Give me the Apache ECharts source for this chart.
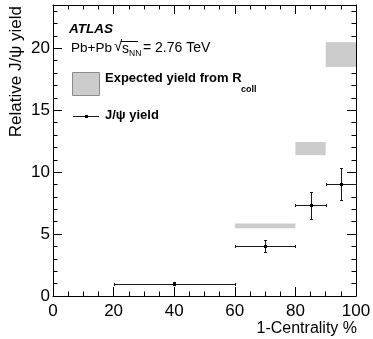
<!DOCTYPE html>
<html><head><meta charset="utf-8">
<script src="https://cdn.jsdelivr.net/npm/echarts@6/dist/echarts.min.js"></script>
<style>html,body{margin:0;padding:0;background:#fff}#c{width:373px;height:339px}</style>
</head><body><div id="c"></div>
<script>
// J/psi yield points (x = 1-centrality %, bins)
const yieldX = [40, 70, 85, 95];
const yieldXLow = [20, 60, 80, 90];
const yieldXHigh = [60, 80, 90, 100];
const yieldY = [1.0, 4.06, 7.31, 9.03];
const yieldYErr = [0.15, 0.5, 1.07, 1.3];
// Expected yield from R_coll (bands)
const rcollXLow = [60, 80, 90];
const rcollXHigh = [80, 90, 100];
const rcollYLow = [5.48, 11.37, 18.5];
const rcollYHigh = [5.86, 12.44, 20.5];
// axis ranges / tick spacing
const xMin = 0, xMax = 100, xMajor = 20, xMinorSplit = 4;
const yMin = 0, yMax = 23.5, yMajor = 5, yMinor = 1;

const FONT = '"Liberation Sans", Arial, Helvetica, sans-serif';
const chart = echarts.init(document.getElementById('c'), null, {renderer: 'canvas'});

const errData = yieldX.map((x, i) => [x, yieldY[i], yieldXLow[i], yieldXHigh[i], yieldYErr[i]]);
const boxData = rcollXLow.map((x, i) => [x, rcollXHigh[i], rcollYLow[i], rcollYHigh[i]]);

const snap = v => Math.round(v) + 0.5;

function renderBox(params, api) {
  const p1 = api.coord([api.value(0), api.value(3)]);
  const p2 = api.coord([api.value(1), api.value(2)]);
  return {
    type: 'rect',
    shape: {x: p1[0], y: p1[1], width: p2[0] - p1[0], height: p2[1] - p1[1]},
    style: {fill: '#cccccc', stroke: null}
  };
}

function renderErr(params, api) {
  const x = api.value(0), y = api.value(1), xl = api.value(2), xh = api.value(3), e = api.value(4);
  const c = api.coord([x, y]);
  const l = api.coord([xl, y]);
  const r = api.coord([xh, y]);
  const t = api.coord([x, y + e]);
  const b = api.coord([x, y - e]);
  const cx = snap(c[0]), cy = snap(c[1]);
  const st = {stroke: '#1a1a1a', lineWidth: 1, fill: null};
  const cap = 1.5;
  const line = (x1, y1, x2, y2) => ({type: 'line', shape: {x1, y1, x2, y2}, style: st});
  const lx = snap(l[0]), rx = snap(r[0]), ty = snap(t[1]), by = snap(b[1]);
  return {
    type: 'group',
    children: [
      line(lx, cy, rx, cy),
      line(cx, ty, cx, by),
      line(lx, cy - cap, lx, cy + cap),
      line(rx, cy - cap, rx, cy + cap),
      line(cx - cap, ty, cx + cap, ty),
      line(cx - cap, by, cx + cap, by),
      {type: 'rect', shape: {x: cx - 1.5, y: cy - 1.5, width: 3, height: 3}, style: {fill: '#000'}}
    ]
  };
}

const tickLine = {color: '#000', width: 1};
const baseX = {
  type: 'value', min: xMin, max: xMax, interval: xMajor,
  axisLine: {show: true, onZero: false, lineStyle: tickLine},
  axisTick: {show: true, inside: true, length: 9, lineStyle: tickLine},
  minorTick: {show: true, splitNumber: xMinorSplit, length: 4.5, lineStyle: tickLine},
  splitLine: {show: false}, minorSplitLine: {show: false}
};
const baseY = (pos, interval, len, labels, line) => ({
  type: 'value', min: yMin, max: yMax, interval: interval, position: pos,
  axisLine: {show: line, onZero: false, lineStyle: tickLine},
  axisTick: {show: true, inside: true, length: len, lineStyle: tickLine},
  axisLabel: labels ? {show: true, fontSize: 17, color: '#000', fontFamily: FONT, margin: 3, showMaxLabel: false} : {show: false},
  splitLine: {show: false}
});

const option = {
  backgroundColor: '#fff',
  animation: false,
  grid: {left: 53, right: 17, top: 5, bottom: 43, containLabel: false, outerBoundsMode: 'none'},
  xAxis: [
    Object.assign({}, baseX, {position: 'bottom', axisLabel: {show: true, fontSize: 17, color: '#000', fontFamily: FONT, margin: 7}}),
    Object.assign({}, baseX, {position: 'top', axisLabel: {show: false}})
  ],
  yAxis: [
    baseY('left', yMajor, 9, true, true),
    baseY('left', yMinor, 4.5, false, false),
    baseY('right', yMajor, 9, false, true),
    baseY('right', yMinor, 4.5, false, false)
  ],
  series: [
    {type: 'custom', name: 'Expected yield from Rcoll', xAxisIndex: 0, yAxisIndex: 0, renderItem: renderBox, data: boxData, z: 2,
      encode: {x: [0, 1], y: [2, 3]}},
    {type: 'custom', name: 'J/ψ yield', xAxisIndex: 0, yAxisIndex: 0, renderItem: renderErr, data: errData, z: 3,
      encode: {x: [0, 2, 3], y: [1]}}
  ],
  graphic: [
    {type: 'text', left: 69, top: 22, style: {text: 'ATLAS', font: 'italic bold 13.5px ' + FONT, fill: '#000'}},
    {type: 'text', left: 71, top: 41, style: {text: 'Pb+Pb', font: '13.5px ' + FONT, fill: '#000'}},
    {type: 'text', left: 114, top: 39, style: {text: '\u221A', font: '15px ' + FONT, fill: '#000'}},
    {type: 'line', shape: {x1: 121, y1: 41.5, x2: 138, y2: 41.5}, style: {stroke: '#000', lineWidth: 1}},
    {type: 'text', left: 122, top: 42, style: {text: 's', font: '14px ' + FONT, fill: '#000'}},
    {type: 'text', left: 129, top: 49, style: {text: 'NN', font: '8.5px ' + FONT, fill: '#000'}},
    {type: 'text', left: 143, top: 41, style: {text: '= 2.76 TeV', font: '14px ' + FONT, fill: '#000'}},
    {type: 'rect', shape: {x: 72.5, y: 72.5, width: 27, height: 23}, style: {fill: '#cccccc', stroke: '#8a8a8a', lineWidth: 1}},
    {type: 'text', left: 105, top: 72, style: {text: 'Expected yield from R', font: 'bold 13px ' + FONT, fill: '#000'}},
    {type: 'text', left: 241, top: 85, style: {text: 'coll', font: 'bold 9px ' + FONT, fill: '#000'}},
    {type: 'line', shape: {x1: 73, y1: 116.5, x2: 99, y2: 116.5}, style: {stroke: '#1a1a1a', lineWidth: 1}},
    {type: 'rect', shape: {x: 85, y: 115, width: 3, height: 3}, style: {fill: '#000'}},
    {type: 'text', left: 105, top: 109, style: {text: 'J/\u03C8 yield', font: 'bold 13px ' + FONT, fill: '#000'}},
    {type: 'text', right: 16, top: 321, style: {text: '1-Centrality %', font: '16px ' + FONT, fill: '#000'}},
    {type: 'text', x: 8, y: 6, rotation: Math.PI / 2, style: {text: 'Relative J/\u03C8 yield', font: '17px ' + FONT, fill: '#000', align: 'right', verticalAlign: 'top'}}
  ]
};
chart.setOption(option);
</script>
</body></html>
